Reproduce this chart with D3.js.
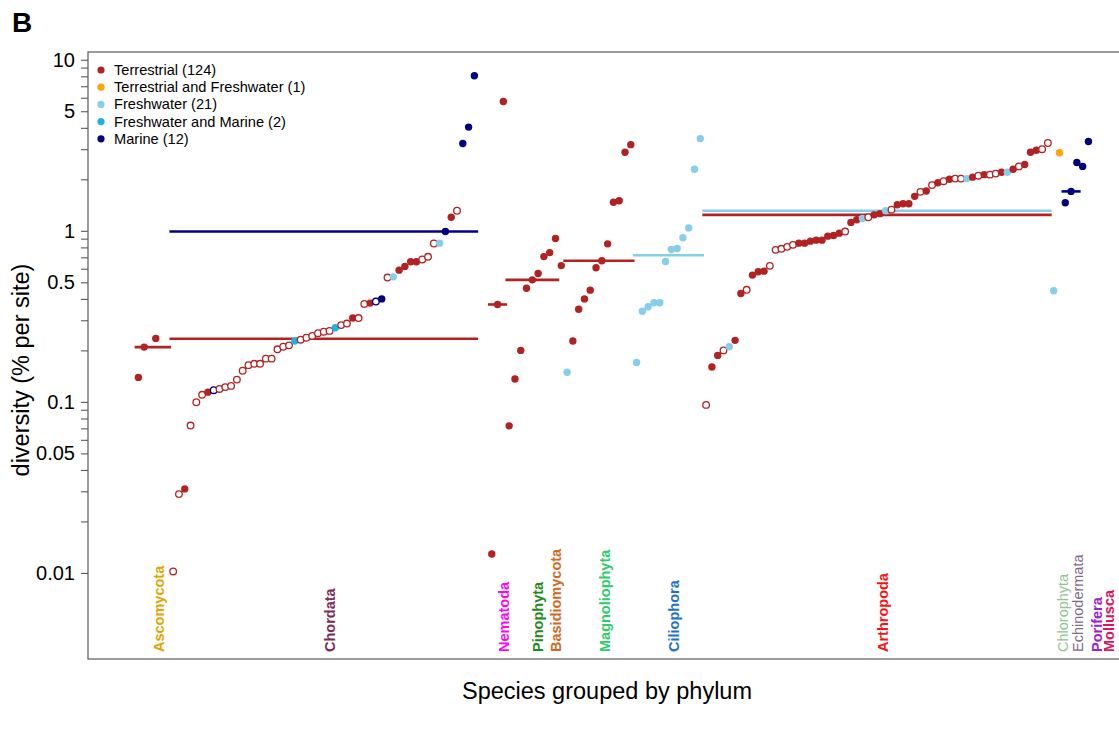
<!DOCTYPE html>
<html><head><meta charset="utf-8">
<script src="https://cdn.jsdelivr.net/npm/d3@7/dist/d3.min.js"></script>
<style>
body{margin:0;background:#fff;}
text{font-family:"Liberation Sans",Arial,Helvetica,sans-serif;}
</style></head><body>
<svg id="chart" width="1119" height="735"></svg>
<script>
// ---------------- DATA ----------------
const phyla = ["Ascomycota","Chordata","Nematoda","Pinophyta","Basidiomycota","Magnoliophyta",
  "Ciliophora","Arthropoda","Chlorophyta","Echinodermata","Porifera","Mollusca"];

// diversity (% per site) per species, species sorted within each phylum; null = species without a plotted value
const diversity = [
  [0.139, 0.209, null, 0.235, null, null],
  [0.0102,0.0289,0.031,0.0727,0.0995,0.110,0.114,0.117,0.119,0.122,0.124,0.135,0.152,0.164,0.167,0.167,
   0.179,0.179,0.203,0.210,0.214,0.227,0.231,0.237,0.243,0.252,0.257,0.260,0.271,0.281,0.287,0.309,0.309,
   0.374,0.378,0.386,0.400,0.533,0.538,0.589,0.618,0.659,0.659,0.680,0.705,0.843,0.847,0.990,1.20,1.31,
   3.24,4.04,8.06],
  [0.0129, 0.371, 5.7],
  [0.0724,0.136,0.200,0.462,0.517,0.563,0.707,0.746,0.901],
  [0.626],
  [0.149,0.227,0.348,0.400,0.450,0.608,0.668,0.839,1.47,1.50,2.88,3.19],
  [0.170,0.339,0.360,0.380,0.380,0.661,0.777,0.788,0.910,1.04,2.29,3.46],
  [0.096,0.160,0.187,0.200,0.210,0.229,0.430,0.452,0.551,0.576,0.581,0.624,0.774,0.785,0.806,0.828,
   0.847,0.847,0.870,0.882,0.882,0.931,0.939,0.969,0.990,1.12,1.16,1.18,1.20,1.24,1.26,1.31,1.33,1.42,
   1.44,1.44,1.59,1.69,1.71,1.85,1.91,1.95,2.00,2.02,2.02,2.02,2.06,2.10,2.13,2.13,2.16,2.20,2.20,2.29,
   2.38,2.44,2.88,2.96,3.00,3.26],
  [0.446, 2.86],
  [1.46, 1.70, 2.51],
  [2.38],
  [3.33]
];

// habitat code per species: T/t terrestrial (filled/open), O terrestrial+freshwater,
// F freshwater, B freshwater+marine, M/m marine (filled/open), "." no value
const habitatCodes = [
  "TT.T..",
  "ttTtttTm" + "ttttttttttttt" + "B" + "tttttt" + "B" + "tt" + "Tt" + "tT" + "mM" + "tF" + "TTTT" + "ttt" + "FMTt" + "MMM",
  "TTT",
  "TTTTTTTTT",
  "T",
  "FTTTTTTTTTTT",
  "FFFFFFFFFFFF",
  "tTTtFTTt" + "TTT" + "ttttt" + "TTTTTTTT" + "t" + "TTFt" + "TTFt" + "TTTT" + "tTtTtT" + "ttF" + "TtTtt" + "TFTt" + "TTTtt",
  "FO",
  "MMM",
  "M",
  "M"
];

const habitats = ["Terrestrial","Terrestrial and Freshwater","Freshwater","Freshwater and Marine","Marine"];
const yTickLabels = [10, 5, 1, 0.5, 0.1, 0.05, 0.01];

// ---------------- STYLE / LAYOUT ----------------
const habitatColors = ["#B22222","#FFA500","#87CEEB","#1CB4E8","#00007F"];
const phylumColors = ["#E0A500","#7D2A55","#FF00FF","#1E8B22","#D2691E","#2ECC6A",
  "#2070D0","#FF1010","#8FC48F","#7F6A88","#A020D0","#E0105A"];
const phylumBold = [true,true,true,true,true,true,true,true,false,false,true,true];
const labelNudge = [6,6,6,6,-5,6,6,6,6,7,14,21];
const slotGapBefore = [0,0,2,0,0,0,0,0,0,0,0,0];
const codeHabitat = {T:0,t:0,O:1,F:2,B:3,M:4,m:4};

const plot = {left: 88, right: 1140, top: 52, bottom: 659};

// build species records with slot index
const species = [];
const ranges = [];
let slot = 0;
phyla.forEach((p, i) => {
  slot += slotGapBefore[i];
  const start = slot;
  diversity[i].forEach((v, j) => {
    const c = habitatCodes[i][j];
    if (v !== null && c !== ".") {
      species.push({phylum: i, slot, value: v, habitat: codeHabitat[c], open: c === "t" || c === "m"});
    }
    slot++;
  });
  ranges.push({start, end: slot - 1});
});

const svg = d3.select("#chart");

const x = d3.scaleLinear().domain([-8.7, 172.9]).range([plot.left, plot.right]);
const y = d3.scaleLog().domain([0.00314, 11.1]).range([plot.bottom, plot.top]);

// panel letter
svg.append("text").attr("x", 12).attr("y", 32).attr("font-size", 28).attr("font-weight", "bold").text("B");

// plot box
svg.append("rect").attr("x", plot.left).attr("y", plot.top)
  .attr("width", plot.right - plot.left).attr("height", plot.bottom - plot.top)
  .attr("fill", "none").attr("stroke", "#5a5a5a").attr("stroke-width", 1.2);

// y axis ticks (all 1..9 x 10^k)
const minorTicks = [];
for (let e = -2; e <= 1; e++) for (let m = 1; m <= 9; m++) {
  const v = m * Math.pow(10, e);
  if (v <= 10.0001) minorTicks.push(v);
}
const yAxis = d3.axisLeft(y).tickValues(minorTicks).tickSize(7).tickFormat(d => yTickLabels.some(t => Math.abs(t - d) / t < 1e-6) ? d3.format("~g")(d) : "");
const gy = svg.append("g").attr("transform", `translate(${plot.left},0)`).call(yAxis);
gy.select(".domain").remove();
gy.selectAll(".tick line").attr("stroke", "#5a5a5a").attr("stroke-width", 1.1);
gy.selectAll(".tick text").attr("font-size", 20).attr("fill", "#000").attr("x", -13)
  .attr("font-family", '"Liberation Sans",Arial,sans-serif');

// axis titles
svg.append("text").attr("transform", `translate(29,370) rotate(-90)`).attr("text-anchor", "middle")
  .attr("font-size", 23.5).text("diversity (% per site)");
svg.append("text").attr("x", 607).attr("y", 699).attr("text-anchor", "middle")
  .attr("font-size", 23.5).text("Species grouped by phylum");

// median lines per phylum and habitat (n >= 3)
const habGroups = [];
phyla.forEach((p, i) => {
  const sp = species.filter(s => s.phylum === i);
  d3.groups(sp, s => s.habitat).forEach(([h, arr]) => {
    if (arr.length >= 3) habGroups.push({phylum: i, habitat: h, median: d3.median(arr, s => s.value)});
  });
});
habGroups.sort((a, b) => (a.habitat === 2) - (b.habitat === 2));
svg.append("g").selectAll("line").data(habGroups).join("line")
  .attr("x1", d => x(ranges[d.phylum].start - 0.65))
  .attr("x2", d => x(ranges[d.phylum].end + 0.65))
  .attr("y1", d => y(d.median)).attr("y2", d => y(d.median))
  .attr("stroke", d => d.habitat === 4 ? "#00008B" : habitatColors[d.habitat])
  .attr("stroke-width", 2.6);

// points
svg.append("g").selectAll("circle").data(species).join("circle")
  .attr("cx", d => x(d.slot)).attr("cy", d => y(d.value))
  .attr("r", d => d.open ? 3.3 : 3.7)
  .attr("fill", d => d.open ? "#fff" : habitatColors[d.habitat])
  .attr("stroke", d => d.open ? habitatColors[d.habitat] : "none")
  .attr("stroke-width", d => d.open ? 1.3 : 0);

// phylum labels
svg.append("g").selectAll("text").data(phyla).join("text")
  .attr("transform", (d, i) => `translate(${x((ranges[i].start + ranges[i].end) / 2) + labelNudge[i]},652) rotate(-90)`)
  .attr("dominant-baseline", "central")
  .attr("font-size", 14.5)
  .attr("font-weight", (d, i) => phylumBold[i] ? "bold" : "normal")
  .attr("fill", (d, i) => phylumColors[i])
  .text(d => d);

// legend
const counts = habitats.map((h, k) => species.filter(s => s.habitat === k).length);
const lg = svg.append("g").selectAll("g").data(habitats).join("g")
  .attr("transform", (d, i) => `translate(101,${70 + i * 17.2})`);
lg.append("circle").attr("r", 3.6).attr("fill", (d, i) => habitatColors[i]);
lg.append("text").attr("x", 13).attr("dominant-baseline", "central").attr("font-size", 14.6)
  .text((d, i) => `${d} (${counts[i]})`);
</script>
</body></html>
